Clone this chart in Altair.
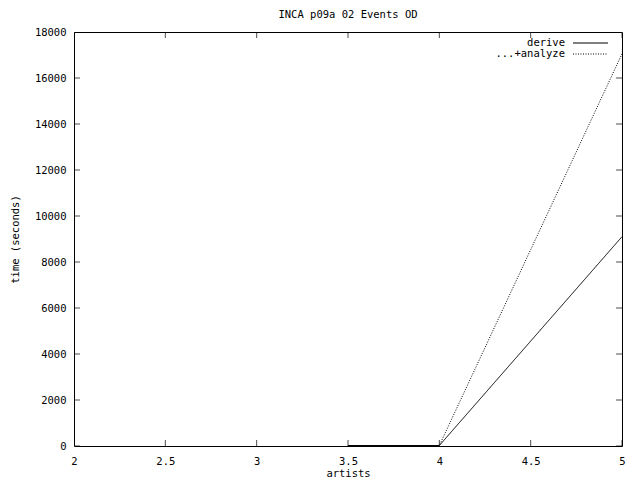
import altair as alt
import pandas as pd

artists = [3.5, 4.0, 5.0]
derive = [20, 20, 9100]
analyze = [20, 20, 17050]
series_names = ["derive", "...+analyze"]
x_ticks = [2, 2.5, 3, 3.5, 4, 4.5, 5]
y_ticks = [0, 2000, 4000, 6000, 8000, 10000, 12000, 14000, 16000, 18000]

FONT = "DejaVu Sans Mono"
FS = 10.5

rows = []
for s, vals in zip(series_names, [derive, analyze]):
    for a, v in zip(artists, vals):
        rows.append({"artists": a, "time": v, "series": s})
df = pd.DataFrame(rows)

xs = alt.Scale(domain=[2, 5], nice=False, zero=False)
ys = alt.Scale(domain=[0, 18000], nice=False)

xaxis = alt.Axis(values=x_ticks, tickSize=0, domain=False, grid=False,
                 labelFont=FONT, labelFontSize=FS, labelColor="black",
                 labelPadding=10, title="artists", titleFont=FONT,
                 titleFontSize=FS, titleFontWeight="normal", titleColor="black",
                 titlePadding=2, labelFlush=False,
                 labelExpr="datum.value == 2 || datum.value == 3 || datum.value == 4 || datum.value == 5 ? format(datum.value, 'd') : format(datum.value, '.1f')")
yaxis = alt.Axis(values=y_ticks, tickSize=0, domain=False, grid=False,
                 labelFont=FONT, labelFontSize=FS, labelColor="black",
                 labelPadding=8, title="time (seconds)", titleFont=FONT,
                 titleFontSize=FS, titleFontWeight="normal", titleColor="black",
                 titlePadding=14, format="d", labelFlush=False)

base = alt.Chart(df)

lines = base.mark_line(strokeWidth=1, color="black", clip=True).encode(
    x=alt.X("artists:Q", scale=xs, axis=xaxis),
    y=alt.Y("time:Q", scale=ys, axis=yaxis),
    strokeDash=alt.StrokeDash("series:N", scale=alt.Scale(domain=series_names, range=[[1, 0], [1, 1.5]]), legend=None),
    detail="series:N",
)

xt = pd.DataFrame({"v": x_ticks})
yt = pd.DataFrame({"v": y_ticks})

xticks_bottom = alt.Chart(xt).mark_tick(orient="vertical", size=12, thickness=1, color="black", clip=True).encode(
    x=alt.X("v:Q", scale=xs), y=alt.datum(0, scale=ys))
xticks_top = alt.Chart(xt).mark_tick(orient="vertical", size=12, thickness=1, color="black", clip=True).encode(
    x=alt.X("v:Q", scale=xs), y=alt.datum(18000, scale=ys))
yticks_left = alt.Chart(yt).mark_tick(orient="horizontal", size=12, thickness=1, color="black", clip=True).encode(
    y=alt.Y("v:Q", scale=ys), x=alt.datum(2, scale=xs))
yticks_right = alt.Chart(yt).mark_tick(orient="horizontal", size=12, thickness=1, color="black", clip=True).encode(
    y=alt.Y("v:Q", scale=ys), x=alt.datum(5, scale=xs))

leg_text1 = alt.Chart().mark_text(align="right", baseline="middle", font=FONT, fontSize=FS, color="black", text=series_names[0]).encode(
    x=alt.value(491), y=alt.value(11))
leg_text2 = alt.Chart().mark_text(align="right", baseline="middle", font=FONT, fontSize=FS, color="black", text=series_names[1]).encode(
    x=alt.value(491), y=alt.value(22))
leg_line1 = alt.Chart().mark_rule(color="black", strokeWidth=1).encode(
    x=alt.value(499), x2=alt.value(534), y=alt.value(11))
leg_line2 = alt.Chart().mark_rule(color="black", strokeWidth=1, strokeDash=[1, 1.5]).encode(
    x=alt.value(499), x2=alt.value(534), y=alt.value(22))

chart = alt.layer(
    lines, xticks_bottom, xticks_top, yticks_left, yticks_right,
    leg_text1, leg_text2, leg_line1, leg_line2,
).properties(
    width=548, height=414,
    title=alt.TitleParams("INCA p09a 02 Events OD", font=FONT, fontSize=FS,
                          fontWeight="normal", color="black", offset=7),
    autosize=alt.AutoSizeParams(type="none"),
    padding={"left": 66, "top": 24, "right": 10, "bottom": 34},
    background="white",
).configure_view(stroke="black", strokeWidth=1)

chart.save("out.html", embed_options={"renderer": "svg", "actions": False})
